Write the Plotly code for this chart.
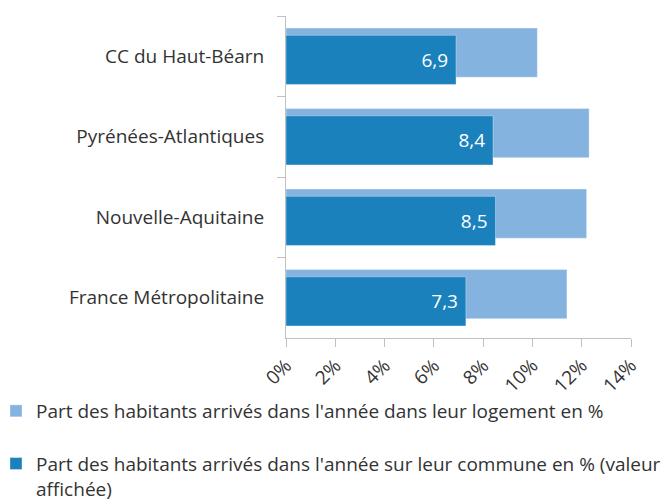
import plotly.graph_objects as go

categories = ["CC du Haut-Béarn", "Pyrénées-Atlantiques", "Nouvelle-Aquitaine", "France Métropolitaine"]
logement = [10.2, 12.3, 12.2, 11.4]
commune = [6.9, 8.4, 8.5, 7.3]
commune_labels = ["6,9", "8,4", "8,5", "7,3"]
tick_values = [0, 2, 4, 6, 8, 10, 12, 14]
tick_labels = ["0%", "2%", "4%", "6%", "8%", "10%", "12%", "14%"]

name_logement = "Part des habitants arrivés dans l'année dans leur logement en %"
name_commune = "Part des habitants arrivés dans l'année sur leur commune en % (valeur<br>affichée)"

FS = 19

fig = go.Figure()
fig.add_trace(go.Bar(
    y=categories, x=logement, orientation="h", name=name_logement,
    marker=dict(color="#85b3df", line=dict(color="rgba(255,255,255,0.35)", width=1)),
    width=0.61, offset=-0.35, hoverinfo="skip", legendgroup="a",
))
fig.add_trace(go.Bar(
    y=categories, x=commune, orientation="h", name=name_commune,
    marker=dict(color="#1a81bd", line=dict(color="rgba(255,255,255,0.35)", width=1)),
    width=0.61, offset=-0.26, text=[t + "\u00a0" for t in commune_labels],
    textposition="inside", insidetextanchor="end", textangle=0,
    textfont=dict(color="white", size=19, family="Open Sans"),
    hoverinfo="skip", legendgroup="b",
))

fig.update_layout(
    width=667, height=501,
    barmode="overlay",
    margin=dict(l=286, r=36, t=16, b=163, autoexpand=False),
    paper_bgcolor="white", plot_bgcolor="white",
    font=dict(family="Open Sans", size=FS, color="#333333"),
    showlegend=True,
    legend=dict(
        xref="paper", yref="container", x=-0.8406, y=0.2176,
        xanchor="left", yanchor="top",
        traceorder="grouped", tracegroupgap=25,
        font=dict(size=FS, color="#333333"), valign="top",
        itemwidth=30, bgcolor="rgba(0,0,0,0)",
    ),
    xaxis=dict(
        range=[0, 14], tickvals=tick_values, ticktext=tick_labels,
        tickangle=-45, showgrid=False, zeroline=False,
        showline=True, linecolor="#c0c0c0", linewidth=1,
        ticks="outside", ticklen=8, tickcolor="#c0c0c0",
        tickfont=dict(size=FS, color="#333333"), automargin=False,
    ),
    yaxis=dict(
        categoryorder="array", categoryarray=categories, autorange="reversed",
        showgrid=False, zeroline=False, showline=True, linecolor="#c0c0c0",
        linewidth=1, ticks="outside", ticklen=8, tickcolor="#c0c0c0",
        tickson="boundaries", ticklabelstandoff=17,
        tickfont=dict(size=FS, color="#333333"), automargin=False,
    ),
)

fig.write_html("out.html", config={"displayModeBar": False},
               post_script="document.body.style.margin='0';")
